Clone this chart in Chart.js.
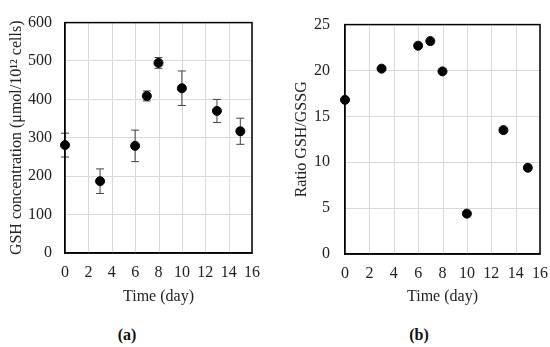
<!DOCTYPE html>
<html>
<head>
    <meta charset="UTF-8">
    <title>GSH charts</title>
    <script src="https://cdn.jsdelivr.net/npm/chart.js"></script>
    <style>
        body { margin: 0; background: #fff; }
        #wrap { position: relative; width: 550px; height: 347px; background: #fff; }
        .panel { position: absolute; top: 0; width: 275px; height: 310px; }
        .tag {
            position: absolute;
            font-family: "Liberation Serif", "Times New Roman", serif;
            font-size: 16px;
            font-weight: bold;
            color: #111;
            transform: translate(-50%, -50%);
        }
    </style>
</head>
<body>
<div id="wrap">
    <div class="panel" style="left:275px"><canvas id="ratioChart" width="275" height="310"></canvas></div>
    <div class="panel" style="left:0"><canvas id="gshChart" width="275" height="310"></canvas></div>
    <div class="tag" style="left:127px; top:335px">(a)</div>
    <div class="tag" style="left:419px; top:335px">(b)</div>
</div>

<script>
    // data
    var days = [0, 3, 6, 7, 8, 10, 13, 15];
    var gshValues = [281, 187, 279, 409, 495, 429, 370, 317];
    var gshErrors = [31, 32, 41, 13, 14, 45, 30, 34];
    var ratioValues = [16.8, 20.2, 22.7, 23.2, 19.9, 4.4, 13.5, 9.4];

    // tick labels
    var dayTicks = [0, 2, 4, 6, 8, 10, 12, 14, 16];
    var gshTicks = [0, 100, 200, 300, 400, 500, 600];
    var ratioTicks = [0, 5, 10, 15, 20, 25];

    (function () {
        var serif = '"Liberation Serif", "Times New Roman", serif';

        function toPoints(xs, ys) {
            return xs.map(function (x, i) { return { x: x, y: ys[i] }; });
        }

        // day axis: grid lines + labels placed with the x scale at the fixed tick list
        var dayAxis = {
            id: 'dayAxis',
            beforeDatasetsDraw: function (chart) {
                var a = chart.chartArea, ctx = chart.ctx, xs = chart.scales.x;
                ctx.save();
                ctx.strokeStyle = '#d9d9d9';
                ctx.lineWidth = 1;
                dayTicks.forEach(function (d) {
                    var px = Math.round(xs.getPixelForValue(d)) + 0.5;
                    ctx.beginPath();
                    ctx.moveTo(px, a.top);
                    ctx.lineTo(px, a.bottom);
                    ctx.stroke();
                });
                ctx.restore();
            },
            afterDraw: function (chart) {
                var a = chart.chartArea, ctx = chart.ctx, xs = chart.scales.x;
                ctx.save();
                ctx.fillStyle = '#222';
                ctx.font = '16px ' + serif;
                ctx.textAlign = 'center';
                ctx.textBaseline = 'middle';
                dayTicks.forEach(function (d) {
                    ctx.fillText(String(d), xs.getPixelForValue(d), a.bottom + 20);
                });
                ctx.restore();
            }
        };

        // black frame round the plot area
        var plotFrame = {
            id: 'plotFrame',
            afterDraw: function (chart) {
                var a = chart.chartArea, ctx = chart.ctx;
                ctx.save();
                ctx.strokeStyle = '#000';
                ctx.lineWidth = 1.5;
                ctx.strokeRect(a.left, a.top, a.right - a.left, a.bottom - a.top);
                ctx.restore();
            }
        };

        // vertical error bars under the points
        function errorBarPlugin(errs) {
            return {
                id: 'gshErrors',
                beforeDatasetsDraw: function (chart) {
                    if (!errs) return;
                    var ctx = chart.ctx;
                    var xs = chart.scales.x, ys = chart.scales.y;
                    ctx.save();
                    ctx.strokeStyle = '#444';
                    ctx.lineWidth = 1;
                    days.forEach(function (d, i) {
                        var v = chart.data.datasets[0].data[i].y;
                        var px = xs.getPixelForValue(d);
                        var top = ys.getPixelForValue(v + errs[i]);
                        var bot = ys.getPixelForValue(v - errs[i]);
                        ctx.beginPath();
                        ctx.moveTo(px, top); ctx.lineTo(px, bot);
                        ctx.moveTo(px - 4, top); ctx.lineTo(px + 4, top);
                        ctx.moveTo(px - 4, bot); ctx.lineTo(px + 4, bot);
                        ctx.stroke();
                    });
                    ctx.restore();
                }
            };
        }

        function makeChart(id, values, errors, yTicks, yTitle, o) {
            return new Chart(document.getElementById(id), {
                type: 'scatter',
                data: {
                    datasets: [{
                        data: toPoints(days, values),
                        backgroundColor: '#000',
                        borderColor: '#000',
                        pointRadius: 4.5,
                        pointHoverRadius: 4.5,
                        clip: false
                    }]
                },
                options: {
                    responsive: false,
                    animation: false,
                    layout: { padding: { top: 15, right: o.right, bottom: 0, left: 0 } },
                    plugins: { legend: { display: false }, tooltip: { enabled: false } },
                    scales: {
                        x: {
                            type: 'linear',
                            min: dayTicks[0],
                            max: dayTicks[dayTicks.length - 1],
                            ticks: { display: false },
                            grid: { display: false },
                            border: { color: '#000', width: 1.5 },
                            title: {
                                display: true,
                                text: 'Time (day)',
                                color: '#222',
                                font: { family: serif, size: 16 },
                                padding: { top: 0, bottom: 4 }
                            },
                            afterFit: function (s) { s.height = o.xHeight; }
                        },
                        y: {
                            type: 'linear',
                            min: yTicks[0],
                            max: yTicks[yTicks.length - 1],
                            ticks: {
                                stepSize: yTicks[1] - yTicks[0],
                                padding: o.yPad,
                                color: '#222',
                                font: { family: serif, size: 16 }
                            },
                            grid: { color: '#d9d9d9', drawTicks: false },
                            border: { color: '#000', width: 1.5 },
                            title: {
                                display: true,
                                text: yTitle,
                                color: '#222',
                                font: { family: serif, size: 16 },
                                padding: { top: o.titlePad, bottom: 0 }
                            },
                            afterFit: function (s) { s.width = o.yWidth; }
                        }
                    }
                },
                plugins: [dayAxis, errorBarPlugin(errors), plotFrame]
            });
        }

        // right panel first, then the left one
        makeChart('ratioChart', ratioValues, null, ratioTicks,
            'Ratio GSH/GSSG',
            { right: 10, xHeight: 56, yWidth: 70, yPad: 15, titlePad: 17 });

        makeChart('gshChart', gshValues, gshErrors, gshTicks,
            'GSH concentration (\u03bcmol/10\u00b9\u00b2 cells)',
            { right: 23, xHeight: 57, yWidth: 65, yPad: 13, titlePad: 7 });
    })();
</script>
</body>
</html>
